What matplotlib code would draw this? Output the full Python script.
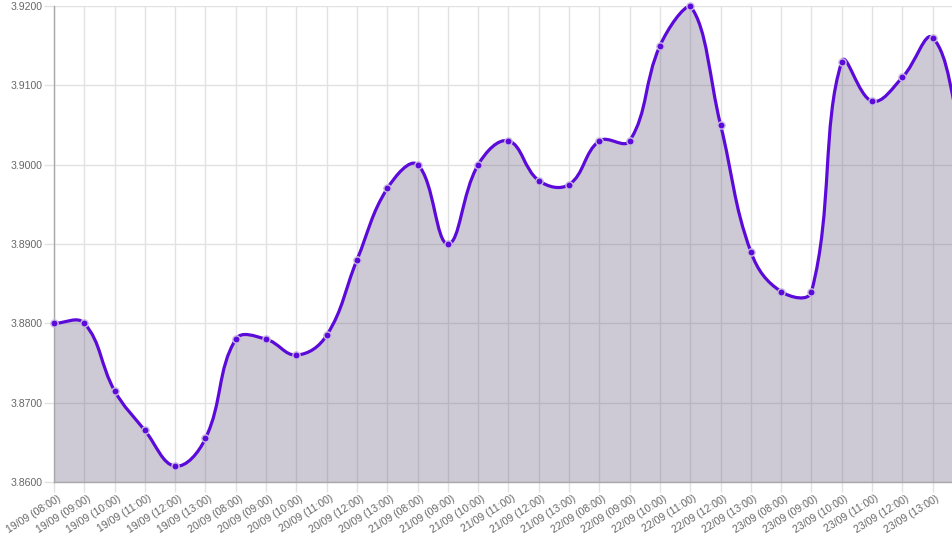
import numpy as np
import matplotlib
matplotlib.use("Agg")
import matplotlib.pyplot as plt
import matplotlib.transforms as mtransforms
from matplotlib.path import Path
from matplotlib.patches import PathPatch

labels = [
    "19/09 (08:00)", "19/09 (09:00)", "19/09 (10:00)", "19/09 (11:00)", "19/09 (12:00)", "19/09 (13:00)",
    "20/09 (08:00)", "20/09 (09:00)", "20/09 (10:00)", "20/09 (11:00)", "20/09 (12:00)", "20/09 (13:00)",
    "21/09 (08:00)", "21/09 (09:00)", "21/09 (10:00)", "21/09 (11:00)", "21/09 (12:00)", "21/09 (13:00)",
    "22/09 (08:00)", "22/09 (09:00)", "22/09 (10:00)", "22/09 (11:00)", "22/09 (12:00)", "22/09 (13:00)",
    "23/09 (08:00)", "23/09 (09:00)", "23/09 (10:00)", "23/09 (11:00)", "23/09 (12:00)", "23/09 (13:00)",
]
values = [
    3.8800, 3.8800, 3.8715, 3.8665, 3.8620, 3.8655,
    3.8780, 3.8780, 3.8760, 3.8785, 3.8880, 3.8970,
    3.9000, 3.8900, 3.9000, 3.9030, 3.8980, 3.8975,
    3.9030, 3.9030, 3.9150, 3.9200, 3.9050, 3.8890,
    3.8840, 3.8840, 3.9130, 3.9080, 3.9110, 3.9160,
    3.9030,
]
y_ticks = [3.86, 3.87, 3.88, 3.89, 3.90, 3.91, 3.92]

W, H = 953, 533
fig = plt.figure(figsize=(W / 100, H / 100), dpi=100)
left_px, right_px, top_px, bottom_px = 54, 963, 6, 482
ax = fig.add_axes([left_px / W, 1 - bottom_px / H, (right_px - left_px) / W, (bottom_px - top_px) / H])

n = len(values)
xs = np.arange(n, dtype=float)
ys = np.array(values)
ymin, ymax = y_ticks[0], y_ticks[-1]
ax.set_xlim(0, n - 1)
ax.set_ylim(ymin, ymax)

# Chart.js-like spline (tension 0.4) computed in pixel space
sx = (right_px - left_px) / (n - 1)
sy = (bottom_px - top_px) / (ymax - ymin)
px = left_px + xs * sx
py = bottom_px - (ys - ymin) * sy
t = 0.4
c_prev = []
c_next = []
for i in range(n):
    p0 = (px[max(i - 1, 0)], py[max(i - 1, 0)])
    p1 = (px[i], py[i])
    p2 = (px[min(i + 1, n - 1)], py[min(i + 1, n - 1)])
    d01 = np.hypot(p1[0] - p0[0], p1[1] - p0[1])
    d12 = np.hypot(p2[0] - p1[0], p2[1] - p1[1])
    tot = d01 + d12
    s01 = d01 / tot if tot else 0
    s12 = d12 / tot if tot else 0
    fa, fb = t * s01, t * s12
    cp = [p1[0] - fa * (p2[0] - p0[0]), p1[1] - fa * (p2[1] - p0[1])]
    cn = [p1[0] + fb * (p2[0] - p0[0]), p1[1] + fb * (p2[1] - p0[1])]
    for c in (cp, cn):
        c[0] = min(max(c[0], left_px), right_px)
        c[1] = min(max(c[1], top_px), bottom_px)
    c_prev.append(cp)
    c_next.append(cn)

def to_data(p):
    return ((p[0] - left_px) / sx, ymin + (bottom_px - p[1]) / sy)

verts = [(xs[0], ys[0])]
codes = [Path.MOVETO]
for i in range(n - 1):
    verts += [to_data(c_next[i]), to_data(c_prev[i + 1]), (xs[i + 1], ys[i + 1])]
    codes += [Path.CURVE4] * 3

fill_verts = verts + [(xs[-1], ymin), (xs[0], ymin), (xs[0], ys[0])]
fill_codes = codes + [Path.LINETO, Path.LINETO, Path.CLOSEPOLY]

grid_c = "#e2e2e2"
ax.set_yticks(y_ticks)
ax.set_yticklabels([f"{v:.4f}" for v in y_ticks])
ax.set_xticks(np.arange(len(labels)))
ax.set_xticklabels(labels, rotation=32, ha="right", va="top", rotation_mode="anchor")
ax.grid(True, color=grid_c, linewidth=1.0, zorder=0)
ax.set_axisbelow(True)
ax.tick_params(axis="both", length=7.2, width=1.0, color=grid_c, labelcolor="#666666",
               labelsize=7.6)
ax.tick_params(axis="x", pad=1.0)
ax.tick_params(axis="y", pad=1.0)
for s in ("top", "right"):
    ax.spines[s].set_visible(False)
for s in ("left", "bottom"):
    ax.spines[s].set_color("#a8a8a8")
    ax.spines[s].set_linewidth(1.0)
shift = mtransforms.ScaledTranslation(0.03, 0, fig.dpi_scale_trans)
for lab in ax.get_xticklabels():
    lab.set_fontfamily("Liberation Sans")
    lab.set_transform(lab.get_transform() + shift)
for lab in ax.get_yticklabels():
    lab.set_fontfamily("Liberation Sans")

ax.add_patch(PathPatch(Path(fill_verts, fill_codes), facecolor=(95 / 255, 82 / 255, 118 / 255, 0.3),
                       edgecolor="none", zorder=2))
ax.add_patch(PathPatch(Path(verts, codes), facecolor="none", edgecolor="#5c0ada",
                       linewidth=2.3, zorder=3, capstyle="round", joinstyle="round"))
ax.plot(xs, ys, linestyle="none", marker="o", markersize=5.2, markerfacecolor="#5c0ada",
        markeredgecolor="#c8bde0", markeredgewidth=1.0, zorder=4, clip_on=False)

fig.savefig("out.png", dpi=100)
